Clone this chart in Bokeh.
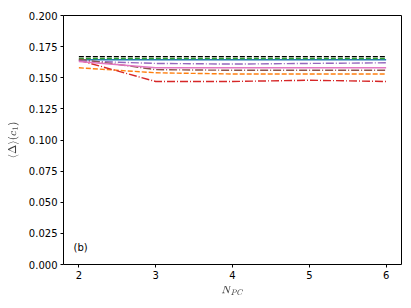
from bokeh.plotting import figure
from bokeh.models import FixedTicker, NumeralTickFormatter, Label, Range1d, TeX
from bokeh.embed import file_html
from bokeh.resources import INLINE

n_pc = [2, 3, 4, 5, 6]
blue_solid = [0.1645, 0.1645, 0.1645, 0.1645, 0.1645]
orange_dash = [0.158, 0.154, 0.153, 0.153, 0.153]
green_dash = [0.1655, 0.1655, 0.1655, 0.1655, 0.1655]
red_dashdot = [0.164, 0.147, 0.147, 0.148, 0.147]
purple_dashdot = [0.1635, 0.1615, 0.161, 0.1615, 0.162]
brown_dashdot = [0.165, 0.1565, 0.156, 0.156, 0.156]
pink_solid = [0.163, 0.158, 0.158, 0.158, 0.158]
black_dash = [0.167, 0.167, 0.167, 0.167, 0.167]
y_ticks = [0.0, 0.025, 0.05, 0.075, 0.1, 0.125, 0.15, 0.175, 0.2]
x_ticks = [2, 3, 4, 5, 6]

p = figure(width=403, height=300, output_backend="svg", toolbar_location=None,
           x_range=Range1d(1.8, 6.2), y_range=Range1d(0.0, 0.2),
           min_border_left=63, min_border_right=2, min_border_top=15, min_border_bottom=36)
p.xgrid.visible = False
p.ygrid.visible = False
p.outline_line_color = "black"
p.outline_line_width = 1
p.background_fill_color = "white"
p.border_fill_color = "white"

series = [
    (blue_solid, "#1f77b4", "solid"),
    (orange_dash, "#ff7f0e", "5 2"),
    (green_dash, "#2ca02c", "5 2"),
    (red_dashdot, "#d62728", "8 2 1 2"),
    (purple_dashdot, "#9467bd", "8 2 1 2"),
    (brown_dashdot, "#8c564b", "8 2 1 2"),
    (pink_solid, "#e377c2", "solid"),
    (black_dash, "black", "5 2"),
]
for ys, col, dash in series:
    p.line(n_pc, ys, line_color=col, line_width=1.4, line_dash=dash)

for ax in (p.xaxis[0], p.yaxis[0]):
    ax.major_label_text_font = "DejaVu Sans"
    ax.major_label_text_font_size = "10px"
    ax.major_label_text_color = "black"
    ax.axis_line_color = None
    ax.major_tick_line_color = "black"
    ax.major_tick_out = 3
    ax.major_tick_in = 0
    ax.minor_tick_line_color = None
    ax.axis_label_text_font = "DejaVu Sans"
    ax.axis_label_text_font_size = "9px"
    ax.axis_label_text_font_style = "normal"
    ax.major_label_standoff = 3

p.xaxis.ticker = FixedTicker(ticks=x_ticks)
p.yaxis.ticker = FixedTicker(ticks=y_ticks)
p.yaxis.formatter = NumeralTickFormatter(format="0.000")
p.yaxis.axis_label = TeX(text=r"\langle\Delta\rangle(c_1)")
p.yaxis.axis_label_standoff = 7
p.xaxis.axis_label = TeX(text=r"N_{PC}")
p.xaxis.axis_label_standoff = 4

p.add_layout(Label(x=1.93, y=0.0095, text="(b)", text_font="DejaVu Sans",
                   text_font_size="10px", text_color="black"))

open("out.html", "w").write(file_html(p, INLINE))
